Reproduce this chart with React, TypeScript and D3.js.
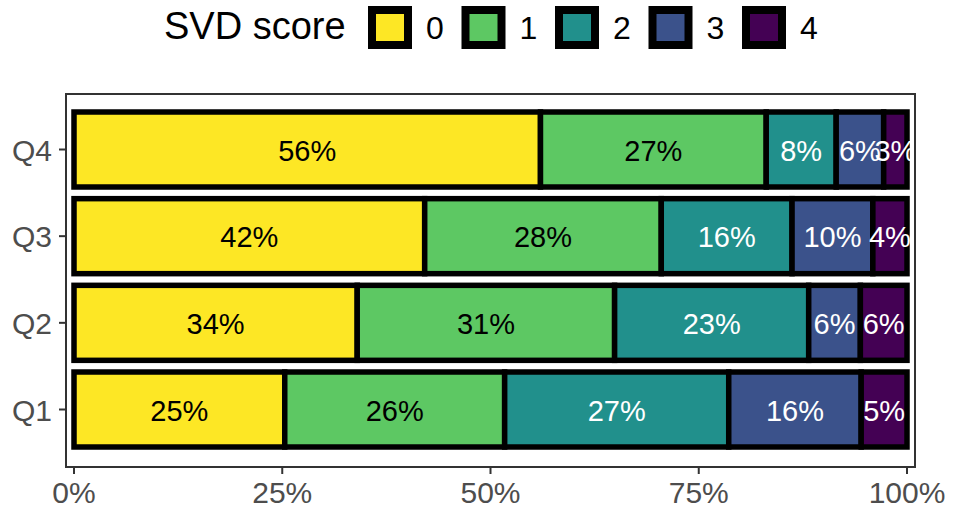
import React from 'react';
import * as d3 from 'd3';

const quarters = ['Q1', 'Q2', 'Q3', 'Q4'];
const scores = ['0', '1', '2', '3', '4'];
const colors = ['#FDE725', '#5DC863', '#21908C', '#3B528B', '#440154'];
const labelColors = ['#000000', '#000000', '#ffffff', '#ffffff', '#ffffff'];

// share (%) per score, one array per quarter
const q1 = [25.3, 26.4, 26.9, 15.9, 5.5];
const q2 = [34.0, 30.9, 23.3, 6.2, 5.6];
const q3 = [42.1, 28.4, 15.7, 9.7, 4.1];
const q4 = [56.0, 27.1, 8.4, 5.7, 2.8];
const shares = [q1, q2, q3, q4];
const labels = [
  ['25%', '26%', '27%', '16%', '5%'],
  ['34%', '31%', '23%', '6%', '6%'],
  ['42%', '28%', '16%', '10%', '4%'],
  ['56%', '27%', '8%', '6%', '3%'],
];
const xTicks = [0, 0.25, 0.5, 0.75, 1];

const W = 953;
const H = 512;
const panel = { left: 66, right: 915, top: 94, bottom: 467 };
const font = '"Liberation Sans", Arial, sans-serif';

const App: React.FC = () => {
  const x = d3.scaleLinear().domain([0, 1]).range([74, 907]);
  // bar centres
  const y = d3.scalePoint<string>()
    .domain([...quarters].reverse())
    .range([149.5, 409.5]);
  const barH = 75;

  const stacks = shares.map(row => {
    let acc = 0;
    return row.map(v => {
      const s = acc;
      acc += v / 100;
      return [s, acc];
    });
  });

  const legendX = d3.scalePoint<string>().domain(scores).range([368, 742]);

  return (
    <svg width={W} height={H} style={{ position: 'absolute', left: 0, top: 0 }} fontFamily={font}>
      <rect width={W} height={H} fill="#fff" />

      {/* legend */}
      <text x={164} y={39} fontSize={38} fill="#000">SVD score</text>
      {scores.map((s, i) => (
        <g key={s}>
          <rect x={legendX(s)! + 4} y={10} width={36} height={35} fill={colors[i]} stroke="#000" strokeWidth={8} />
          <text x={legendX(s)! + 58} y={39} fontSize={32} textAnchor="start" fill="#000">{s}</text>
        </g>
      ))}

      {/* bars */}
      {quarters.map((q, qi) => (
        <g key={q}>
          {stacks[qi].map(([a, b], si) => (
            <rect key={si} x={x(a)} y={y(q)! - barH / 2} width={x(b) - x(a)} height={barH}
              fill={colors[si]} stroke="#000" strokeWidth={5.5} />
          ))}
          {stacks[qi].map(([a, b], si) => (
            <text key={'t' + si} x={(x(a) + x(b)) / 2} y={y(q)! + 11}
              fontSize={29} textAnchor="middle" fill={labelColors[si]}>{labels[qi][si]}</text>
          ))}
        </g>
      ))}

      {/* panel border */}
      <rect x={panel.left} y={panel.top} width={panel.right - panel.left} height={panel.bottom - panel.top}
        fill="none" stroke="#333" strokeWidth={2} />

      {/* y axis */}
      {quarters.map(q => {
        const cy = y(q)!;
        return (
          <g key={q}>
            <line x1={panel.left - 7} x2={panel.left} y1={cy} y2={cy} stroke="#333" strokeWidth={2} />
            <text x={panel.left - 14} y={cy + 11} fontSize={30} textAnchor="end" fill="#4d4d4d">{q}</text>
          </g>
        );
      })}

      {/* x axis */}
      {xTicks.map(t => (
        <g key={t}>
          <line x1={x(t)} x2={x(t)} y1={panel.bottom} y2={panel.bottom + 7} stroke="#333" strokeWidth={2} />
          <text x={x(t)} y={503} fontSize={30} textAnchor="middle" fill="#4d4d4d">{d3.format('.0%')(t)}</text>
        </g>
      ))}
    </svg>
  );
};

export default App;
